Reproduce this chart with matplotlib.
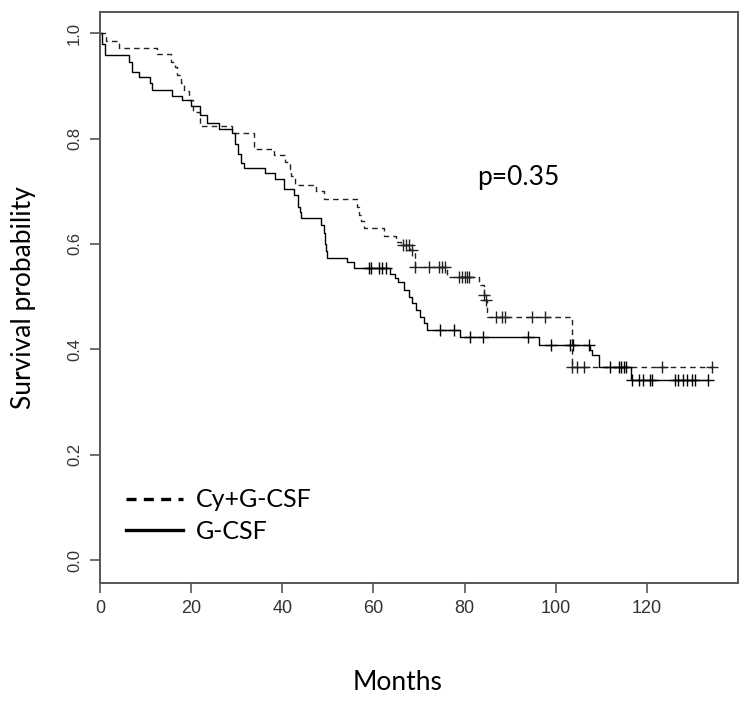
import numpy as np
import matplotlib
matplotlib.use("Agg")
import matplotlib.pyplot as plt
from matplotlib.lines import Line2D

# Kaplan-Meier steps (months, survival)
gcsf_t = [0, 0.5, 1.0, 6.4, 7.1, 8.6, 10.9, 11.4, 15.9, 18.0, 19.9, 21.9, 23.5, 26.1,
          29.0, 29.6, 30.2, 30.9, 31.6, 36.2, 38.4, 40.4, 42.6, 43.5, 43.8, 44.0,
          48.4, 49.1, 49.3, 49.6, 49.8, 54.3, 55.7, 63.6, 64.7, 65.5, 66.8, 67.7,
          68.5, 69.3, 70.2, 71.0, 71.8, 79.1, 96.3, 107.6, 108.0, 109.4, 116.6, 133.5]
gcsf_s = [1.0, 0.979, 0.958, 0.945, 0.927, 0.917, 0.905, 0.892, 0.88, 0.873, 0.862, 0.845, 0.829, 0.819,
          0.81, 0.79, 0.77, 0.753, 0.744, 0.735, 0.723, 0.704, 0.693, 0.67, 0.66, 0.649,
          0.636, 0.62, 0.60, 0.587, 0.573, 0.565, 0.554, 0.544, 0.535, 0.527, 0.513, 0.500,
          0.488, 0.475, 0.462, 0.45, 0.437, 0.423, 0.408, 0.399, 0.39, 0.367, 0.342, 0.342]
gcsf_cens = [59.0, 59.5, 61.3, 61.9, 62.7, 74.7, 77.6, 81.3, 84.0, 93.9, 98.9, 103.2, 103.9,
             107.2, 112.0, 113.8, 114.4, 114.9, 115.4, 116.8, 118.2, 119.1, 120.7, 121.1,
             126.2, 126.9, 128.0, 128.7, 129.8, 130.6, 133.5]

cy_t = [0, 1.3, 4.2, 12.6, 15.6, 16.4, 17.0, 17.8, 18.5, 19.6, 20.5, 21.9, 29.0, 33.8,
        38.2, 40.5, 41.6, 42.0, 42.7, 47.3, 49.2, 56.4, 56.8, 57.2, 57.9, 62.3, 64.9,
        66.0, 68.0, 69.2, 76.2, 83.1, 84.2, 84.6, 84.9, 103.6, 134.2]
cy_s = [1.0, 0.985, 0.971, 0.96, 0.946, 0.936, 0.92, 0.905, 0.89, 0.873, 0.851, 0.824, 0.81, 0.781,
        0.769, 0.756, 0.743, 0.728, 0.712, 0.701, 0.685, 0.67, 0.655, 0.643, 0.631, 0.615, 0.604,
        0.598, 0.589, 0.557, 0.538, 0.522, 0.503, 0.494, 0.462, 0.366, 0.366]
cy_cens = [66.5, 67.2, 67.8, 68.5, 69.2, 72.2, 74.3, 75.1, 75.8, 78.8, 79.5, 80.2, 80.5, 80.9,
           84.2, 84.6, 86.8, 88.2, 88.8, 94.8, 97.7, 103.6, 104.6, 106.1, 123.3, 134.2]

x_ticks = [0, 20, 40, 60, 80, 100, 120]
y_ticks = [0.0, 0.2, 0.4, 0.6, 0.8, 1.0]
labels = ["Cy+G-CSF", "G-CSF"]
p_text = "p=0.35"

LABEL_FONT = ["Lato", "DejaVu Sans"]
TICK_FONT = ["Liberation Sans", "DejaVu Sans"]


def surv_at(t, times, surv):
    idx = np.searchsorted(times, t, side="right") - 1
    return np.asarray(surv)[idx]


fig = plt.figure(figsize=(7.51, 7.02), dpi=100)
ax = fig.add_axes([100 / 751, 119 / 702, 638 / 751, 571 / 702])

ax.step(cy_t, cy_s, where="post", color="#222222", lw=1.0, ls=(0, (4, 3)))
ax.step(gcsf_t, gcsf_s, where="post", color="black", lw=1.0)
ax.plot(cy_cens, surv_at(cy_cens, cy_t, cy_s), ls="none", marker="+",
        ms=9, mew=1.0, color="#222222")
ax.plot(gcsf_cens, surv_at(gcsf_cens, gcsf_t, gcsf_s), ls="none", marker="+",
        ms=9, mew=1.0, color="black")

ax.set_xlim(0, 140)
ax.set_ylim(-0.043, 1.04)
ax.set_xticks(x_ticks)
ax.set_xticklabels([str(v) for v in x_ticks], family=TICK_FONT, fontsize=13, color="#333333")
ax.set_yticks(y_ticks)
ax.set_yticklabels([f"{v:.1f}" for v in y_ticks], family=TICK_FONT, fontsize=12,
                   color="#333333", rotation=90, va="center")
ax.tick_params(axis="both", length=7, width=1.2, color="#555555")
ax.tick_params(axis="x", pad=5)
ax.tick_params(axis="y", pad=6)
for sp in ax.spines.values():
    sp.set_color("#555555")
    sp.set_linewidth(1.4)

ax.set_xlabel("Months", family=LABEL_FONT, fontsize=19, va="center")
ax.xaxis.set_label_coords((398 - 100) / 638, -0.175)
ax.set_ylabel("Survival probability", family=LABEL_FONT, fontsize=19, labelpad=22)

ax.text(0.655, 0.71, p_text, transform=ax.transAxes, family=LABEL_FONT, fontsize=19,
        ha="center", va="center")

handles = [Line2D([], [], color="black", lw=2.4, ls=(0, (3, 2.2))),
           Line2D([], [], color="black", lw=2.4)]
ax.legend(handles, labels, loc="lower left", bbox_to_anchor=(0.04, 0.07),
          frameon=False, prop={"family": LABEL_FONT, "size": 18},
          handlelength=2.3, handletextpad=0.5, labelspacing=0.35,
          borderpad=0, borderaxespad=0)

fig.savefig("out.png", dpi=100, facecolor="white")
